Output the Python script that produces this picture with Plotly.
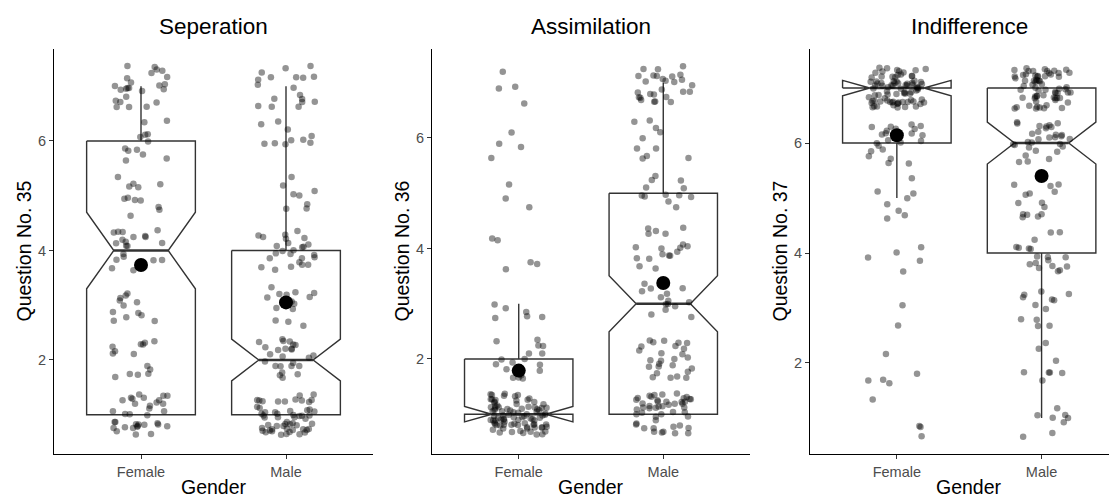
import numpy as np
import plotly.graph_objects as go

# ---------------- data ----------------
genders = ["Female", "Male"]
levels = [1, 2, 3, 4, 5, 6, 7]
panel_titles = ["Seperation", "Assimilation", "Indifference"]
y_titles = ["Question No. 35", "Question No. 36", "Question No. 37"]
x_title = "Gender"
y_tick_values = [2, 4, 6]

# number of answers per response level 1..7
sep_female = [34, 14, 12, 20, 12, 12, 24]
sep_male = [55, 25, 14, 25, 8, 10, 18]
ass_female = [88, 18, 6, 5, 3, 4, 4]
ass_male = [48, 26, 14, 18, 12, 10, 27]
ind_female = [4, 5, 2, 5, 8, 22, 82]
ind_male = [8, 8, 12, 18, 14, 30, 65]

# ---------------- styling / layout ----------------
PAGE_OFF = 8                     # default body margin of the html page
FW, FH = 1117 - PAGE_OFF, 497 - PAGE_OFF
FONT = "Liberation Sans, Arial, Helvetica, sans-serif"
BOX_HALF = 0.375
NOTCH_W = 0.5
JIT_W = 0.2
JIT_H = 0.38
LINE_C = "#333333"


def px(sx):   # screen x -> paper fraction
    return (sx - PAGE_OFF) / FW


def py(sy):   # screen y -> paper fraction
    return (FH - (sy - PAGE_OFF)) / FH


x_domains = [[px(54), px(373)], [px(432), px(750)], [px(810), 1.0]]
x_ranges = [[-0.6, 1.6], [-0.6, 1.6], [-0.6, 1.521]]
y_ranges = [[0.283, 7.68], [0.28, 7.61], [0.345, 7.71]]
y_dom = [py(454), py(49)]

panels = [(sep_female, sep_male), (ass_female, ass_male), (ind_female, ind_male)]


def expand(counts):
    vals = []
    for lv, c in zip(levels, counts):
        vals += [lv] * c
    return np.array(vals, dtype=float)


def box_stats(vals):
    q1, med, q3 = np.quantile(vals, [0.25, 0.5, 0.75])
    iqr = q3 - q1
    lo = vals[vals >= q1 - 1.5 * iqr].min()
    hi = vals[vals <= q3 + 1.5 * iqr].max()
    notch = 1.58 * iqr / np.sqrt(len(vals))
    return q1, med, q3, lo, hi, notch, vals.mean()


def jitter(n, seed):
    # deterministic hash-based scatter offsets (presentation only)
    i = np.arange(n) + seed * 1000
    u = np.modf(np.abs(np.sin(i * 12.9898 + 1.3) * 43758.5453))[0]
    v = np.modf(np.abs(np.sin(i * 78.233 + 4.1) * 24634.6345))[0]
    return (2 * u - 1) * JIT_W, (2 * v - 1) * JIT_H


fig = go.Figure()
annotations = []

for p, (fem, mal) in enumerate(panels):
    xa = "x" if p == 0 else f"x{p + 1}"
    ya = "y" if p == 0 else f"y{p + 1}"
    stats = [box_stats(expand(c)) for c in (fem, mal)]
    pos = [0, 1]

    # notched boxes (ggplot style outline) + whiskers
    for g, s in zip(pos, stats):
        q1, med, q3, lo, hi, ns, _ = s
        L, R = g - BOX_HALF, g + BOX_HALF
        iL, iR = g - BOX_HALF * NOTCH_W, g + BOX_HALF * NOTCH_W
        bx = [L, R, R, iR, R, R, L, L, iL, L, L]
        by = [q3, q3, med + ns, med, med - ns, q1, q1, med - ns, med, med + ns, q3]
        fig.add_trace(go.Scatter(x=[g, g, None, g, g], y=[q3, hi, None, q1, lo],
                                 mode="lines", line=dict(color=LINE_C, width=1.4),
                                 showlegend=False, hoverinfo="skip",
                                 xaxis=xa, yaxis=ya))
        fig.add_trace(go.Scatter(x=bx, y=by, mode="lines", fill="toself",
                                 fillcolor="white",
                                 line=dict(color=LINE_C, width=1.4),
                                 showlegend=False, hoverinfo="skip",
                                 xaxis=xa, yaxis=ya))
        fig.add_trace(go.Scatter(x=[iL, iR], y=[med, med], mode="lines",
                                 line=dict(color=LINE_C, width=2.6),
                                 showlegend=False, hoverinfo="skip",
                                 xaxis=xa, yaxis=ya))

    # jittered points
    jx, jy = [], []
    for g, counts in zip(pos, (fem, mal)):
        vals = expand(counts)
        dx, dy = jitter(len(vals), seed=2 * p + g + 1)
        jx += list(g + dx)
        jy += list(vals + dy)
    fig.add_trace(go.Scatter(x=jx, y=jy, mode="markers",
                             marker=dict(color="rgba(0,0,0,0.42)", size=6.5,
                                         line=dict(width=0)),
                             showlegend=False, hoverinfo="skip",
                             xaxis=xa, yaxis=ya))

    # means
    fig.add_trace(go.Scatter(x=pos, y=[s[6] for s in stats], mode="markers",
                             marker=dict(color="black", size=14, line=dict(width=0)),
                             showlegend=False, hoverinfo="skip",
                             xaxis=xa, yaxis=ya))

    common = dict(showgrid=False, zeroline=False, showline=True,
                  linecolor="black", linewidth=1.2, ticks="outside", ticklen=4,
                  tickcolor=LINE_C, tickwidth=1.2,
                  tickfont=dict(family=FONT, size=14.5, color="#4d4d4d"),
                  fixedrange=True)
    fig.layout["xaxis" if p == 0 else f"xaxis{p + 1}"] = dict(
        domain=x_domains[p], range=x_ranges[p], anchor=ya,
        tickvals=pos, ticktext=genders, **common)
    fig.layout["yaxis" if p == 0 else f"yaxis{p + 1}"] = dict(
        domain=y_dom, range=y_ranges[p], anchor=xa,
        tickvals=y_tick_values, **common)

    annotations.append(dict(text=panel_titles[p], xref=xa, x=0.5, yref="paper",
                            y=py(27), yanchor="middle", xanchor="center",
                            showarrow=False,
                            font=dict(family=FONT, size=22.5, color="black")))
    annotations.append(dict(text=x_title, xref=xa, x=0.5, yref="paper",
                            y=py(487), yanchor="middle", xanchor="center",
                            showarrow=False,
                            font=dict(family=FONT, size=19.5, color="black")))
    ax_left_screen = x_domains[p][0] * FW + PAGE_OFF
    annotations.append(dict(text=y_titles[p], xref="paper",
                            x=px(ax_left_screen - 31),
                            yref="paper", y=(y_dom[0] + y_dom[1]) / 2,
                            xanchor="center", yanchor="middle", textangle=-90,
                            showarrow=False,
                            font=dict(family=FONT, size=19.5, color="black")))

fig.update_layout(width=FW, height=FH, margin=dict(l=0, r=0, t=0, b=0),
                  paper_bgcolor="white", plot_bgcolor="white",
                  annotations=annotations, showlegend=False)

fig.write_html("out.html")
